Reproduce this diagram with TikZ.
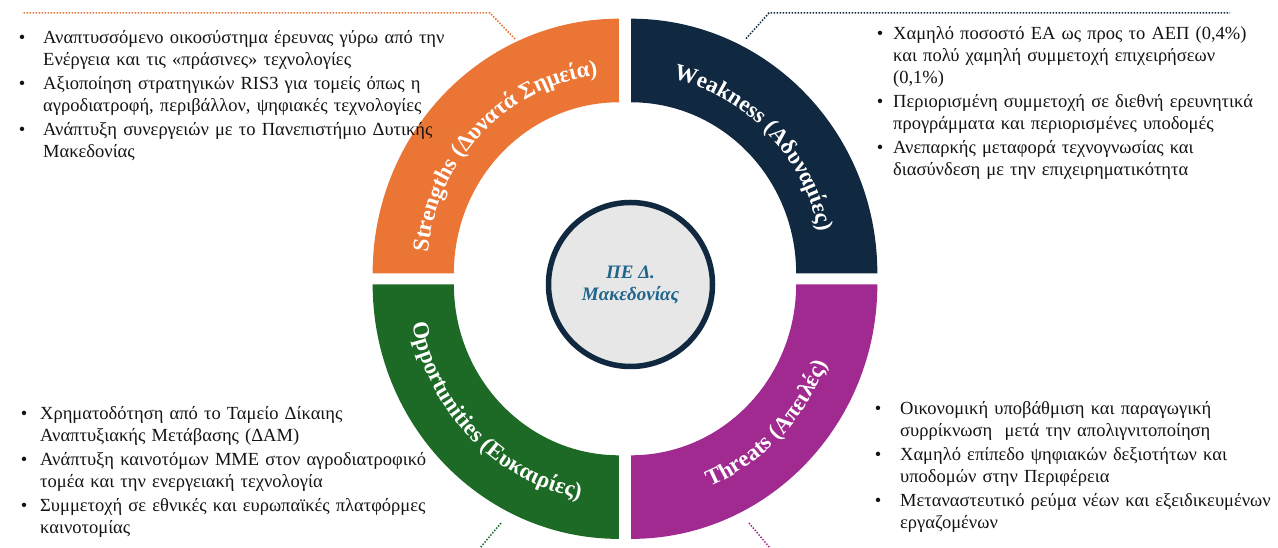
\documentclass[tikz,border=0pt]{standalone}
\usepackage{fontspec}
\setmainfont{Liberation Serif}
\usetikzlibrary{decorations.text}
\definecolor{cOrange}{RGB}{234,117,52}
\definecolor{cNavy}{RGB}{16,40,64}
\definecolor{cGreen}{RGB}{28,106,38}
\definecolor{cPurple}{RGB}{160,42,144}
\definecolor{cCircle}{RGB}{231,231,231}
\definecolor{cCtext}{RGB}{31,100,140}
\definecolor{cText}{RGB}{20,20,20}
\newcommand\bfont{\fontsize{18.5}{22}\selectfont}
\newcommand\rfont{\fontsize{23}{23}\selectfont\bfseries}
\newcommand\cfont{\fontsize{19}{22}\selectfont\bfseries\itshape}
\newcommand\bstrut{\rule{0pt}{15pt}}
\newcommand\bitem[2]{\par\hangindent=#1\hangafter=1\noindent\makebox[#1][l]{•}\bstrut#2\par}
\begin{document}
\begin{tikzpicture}[x=1pt,y=1pt,
  dotline/.style={draw=#1, line width=1.5pt, dash pattern=on 1.5pt off 1.5pt},
  blist/.style={anchor=north west, inner sep=0pt, text width=#1, align=left, font=\bfont, text=cText},
  ringlabel/.style={decorate, decoration={text along path, text align=center, text color=white, text={#1}}}
]
\useasboundingbox (0,0) rectangle (1278,548);
\fill[white] (0,0) rectangle (1278,548);

% ring quadrants
\fill[cOrange] (618.85-246.2,274.7) arc[start angle=180,end angle=90,x radius=246.2,y radius=254.6]
  -- (618.85,274.7+171) arc[start angle=90,end angle=180,x radius=165,y radius=171] -- cycle;
\fill[cNavy] (631.15,274.7+254.6) arc[start angle=90,end angle=0,x radius=246.2,y radius=254.6]
  -- (631.15+165,274.7) arc[start angle=0,end angle=90,x radius=165,y radius=171] -- cycle;
\fill[cGreen] (618.85-246.2,263.7) arc[start angle=180,end angle=270,x radius=246.2,y radius=254.6]
  -- (618.85,263.7-171) arc[start angle=270,end angle=180,x radius=165,y radius=171] -- cycle;
\fill[cPurple] (631.15,263.7-254.6) arc[start angle=270,end angle=360,x radius=246.2,y radius=254.6]
  -- (631.15+165,263.7) arc[start angle=0,end angle=-90,x radius=165,y radius=171] -- cycle;

% ring labels
\path[ringlabel={|\rfont|Strengths (Δυνατά Σημεία)}]
  (618.85-192,274.7) arc[start angle=180,end angle=90,x radius=192,y radius=199];
\path[ringlabel={|\rfont|Weakness (Αδυναμίες)}]
  (631.15,274.7+199) arc[start angle=90,end angle=0,x radius=192,y radius=199];
\path[ringlabel={|\rfont|Opportunities (Ευκαιρίες)}]
  (618.85-210,263.7) arc[start angle=180,end angle=270,x radius=210,y radius=218];
\path[ringlabel={|\rfont|Threats (Απειλές)}]
  (631.15,263.7-218) arc[start angle=270,end angle=360,x radius=210,y radius=218];

% centre
\node[circle, draw=cNavy, line width=5.5pt, fill=cCircle, minimum size=164pt, inner sep=0pt,
  align=center, font=\cfont, text=cCtext] (centre) at (630.5,263.5) {ΠΕ Δ.\\Μακεδονίας};

% dotted leaders
\coordinate (so) at (515,509); \coordinate (sb) at (490,535); \coordinate (se) at (22,535);
\coordinate (wo) at (746,509.4); \coordinate (wb) at (769,535); \coordinate (we) at (1230,535);
\coordinate (oo) at (501,25); \coordinate (oe) at (480,0);
\coordinate (to) at (749,25); \coordinate (te) at (770,0);
\draw[dotline=cOrange] (so) -- (sb) -- (se);
\draw[dotline=cNavy] (wo) -- (wb) -- (we);
\draw[dotline=cGreen] (oo) -- (oe);
\draw[dotline=cPurple] (to) -- (te);

% text blocks
\node[blist=450pt] (S) at (18.6,529) {%
\setlength{\parskip}{2pt}%
\bitem{24.4pt}{Αναπτυσσόμενο οικοσύστημα έρευνας γύρω από την\newline Ενέργεια και τις «πράσινες» τεχνολογίες}
\bitem{24.4pt}{Αξιοποίηση στρατηγικών RIS3 για τομείς όπως η\newline αγροδιατροφή, περιβάλλον, ψηφιακές τεχνολογίες}
\bitem{24.4pt}{Ανάπτυξη συνεργειών με το Πανεπιστήμιο Δυτικής\newline Μακεδονίας}};

\node[blist=430pt] (W) at (876.6,533) {%
\setlength{\parskip}{2pt}%
\bitem{16.4pt}{Χαμηλό ποσοστό ΕΑ ως προς το ΑΕΠ (0,4\%)\newline και πολύ χαμηλή συμμετοχή επιχειρήσεων\newline (0,1\%)}
\bitem{16.4pt}{Περιορισμένη συμμετοχή σε διεθνή ερευνητικά\newline προγράμματα και περιορισμένες υποδομές}
\bitem{16.4pt}{Ανεπαρκής μεταφορά τεχνογνωσίας και\newline διασύνδεση με την επιχειρηματικότητα}};

\node[blist=450pt] (O) at (20.6,153) {%
\setlength{\parskip}{2pt}%
\bitem{19.4pt}{Χρηματοδότηση από το Ταμείο Δίκαιης\newline Αναπτυξιακής Μετάβασης (ΔΑΜ)}
\bitem{19.4pt}{Ανάπτυξη καινοτόμων ΜΜΕ στον αγροδιατροφικό\newline τομέα και την ενεργειακή τεχνολογία}
\bitem{19.4pt}{Συμμετοχή σε εθνικές και ευρωπαϊκές πλατφόρμες\newline καινοτομίας}};

\node[blist=430pt] (T) at (874.6,157.5) {%
\setlength{\parskip}{2pt}%
\bitem{25.4pt}{Οικονομική υποβάθμιση και παραγωγική\newline συρρίκνωση \ μετά την απολιγνιτοποίηση}
\bitem{25.4pt}{Χαμηλό επίπεδο ψηφιακών δεξιοτήτων και\newline υποδομών στην Περιφέρεια}
\bitem{25.4pt}{Μεταναστευτικό ρεύμα νέων και εξειδικευμένων\newline εργαζομένων}};
\end{tikzpicture}
\end{document}
